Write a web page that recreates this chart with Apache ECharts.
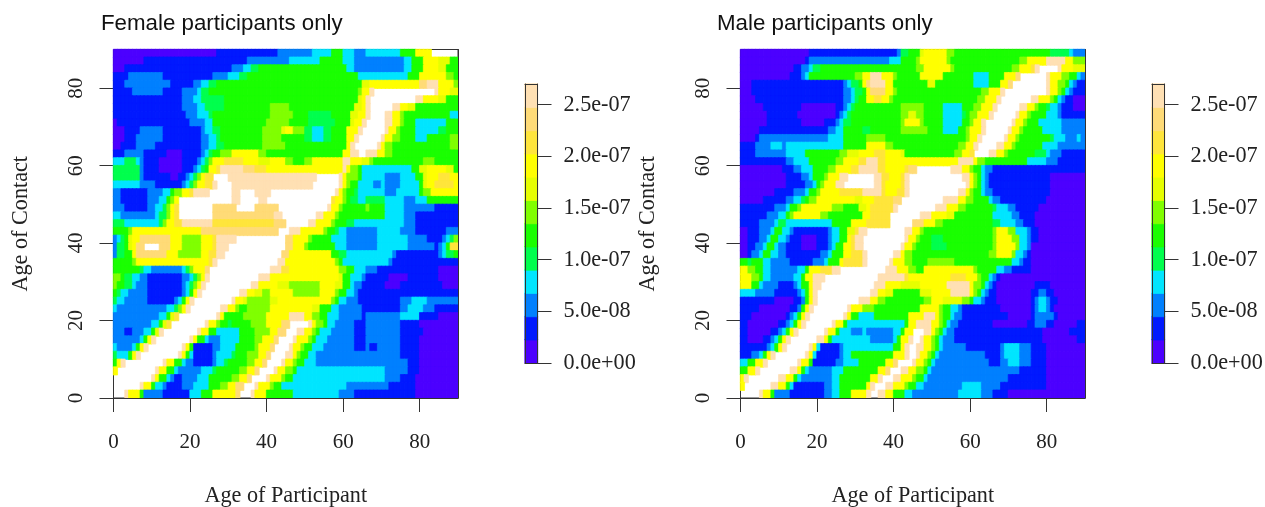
<!DOCTYPE html>
<html><head><meta charset="utf-8">
<style>html,body{margin:0;padding:0;background:#fff}#c{width:1265px;height:507px}</style>
<script src="https://cdn.jsdelivr.net/npm/echarts@6/dist/echarts.min.js"></script>
</head><body><div id="c"></div>
<script>
// Colour bands of the scale, lowest to highest (12 bands); level 12 ("c") = above the scale, not painted.
const bandColors = ['#4C00FF','#0019FF','#0080FF','#00E5FF','#00FF4D','#1AFF00','#80FF00','#E6FF00','#FFFF00','#FFE53B','#FFDB77','#FFE0B3'];
const axisTicks = [0,20,40,60,80];
const scaleTicks = [0,5e-8,1e-7,1.5e-7,2e-7,2.5e-7];
const scaleLabels = ['0.0e+00','5.0e-08','1.0e-07','1.5e-07','2.0e-07','2.5e-07'];
const scaleMax = 2.7e-7;
const ageMax = 90;
// Each row: contact age band, top to bottom (2 years high). Token = level (base 13) + participant age where the run ends.
const femaleRows = [
"027 143 252 357 560 363 266 375 579 883 c90",
"08 135 246 354 560 363 276 378 581 885 788 590",
"03 131 234 336 438 561 363 276 378 581 885 787 590",
"14 213 126 230 333 435 564 377 580 887 689 590",
"13 215 121 223 325 427 565 767 880 a82 b85 889 690",
"15 213 118 222 323 425 564 665 867 b68 c84 b85 888 790",
"118 221 323 429 564 765 866 b67 c79 b81 885 787 590",
"118 222 324 429 541 646 563 765 866 b67 c73 b75 877 779 590",
"119 222 325 426 541 647 551 457 562 764 866 b67 c71 b73 875 676 588 390",
"01 120 224 326 540 646 551 458 562 763 865 b66 c71 b73 875 676 579 387 590",
"03 17 213 123 224 326 428 539 644 745 847 650 452 355 457 561 864 b65 c71 b72 874 675 579 385 487 590",
"03 16 213 123 225 327 428 539 644 550 452 355 457 561 863 b64 c70 b71 873 675 579 382 588 690",
"02 16 211 123 225 327 429 539 645 561 862 b63 c69 b70 871 673 588 690",
"13 28 114 018 123 224 325 426 528 631 838 640 560 862 b64 c66 b69 871 673 590",
"33 46 37 28 112 018 122 223 324 425 626 829 934 838 741 845 647 550 652 860 b62 865 767 668 581 684 590",
"47 28 112 018 121 222 323 424 525 827 928 b34 a37 940 860 b61 862 664 565 378 580 782 887 789 590",
"47 28 115 017 119 220 321 422 623 824 926 c30 b53 c59 b60 861 664 565 371 275 379 581 782 885 988 890",
"37 211 118 219 320 421 622 824 926 b27 c31 b52 c59 b60 861 662 564 368 270 371 275 380 581 782 884 989 890",
"22 19 213 315 516 618 820 921 b25 c31 b33 c37 b41 c58 b59 860 661 563 464 371 274 380 581 683 890",
"22 19 212 314 515 616 817 c31 b33 c38 b40 c57 958 860 661 562 464 366 471 376 279 382 590",
"23 19 211 313 414 615 816 917 c26 a32 c37 a43 c56 b57 859 660 566 667 571 376 284 190",
"32 211 312 414 615 816 917 c26 a42 b44 c53 b55 858 659 571 376 279 190",
"43 312 413 614 816 918 b26 942 a45 c51 b53 857 658 561 463 376 279 190",
"54 65 823 a43 c46 b49 855 656 558 459 361 269 375 279 187 290",
"21 32 43 54 75 87 a15 818 623 826 927 b32 c45 a47 851 652 557 361 269 377 282 186 287 388 489 690",
"21 43 54 75 86 a8 c12 a15 818 623 826 927 b30 c45 a47 850 651 558 361 269 377 284 185 286 387 588 990",
"21 43 55 86 a14 817 623 825 927 b29 c44 a46 857 559 461 373 274 185 286 387 489 590",
"55 66 825 926 b27 c43 b45 858 659 560 372 273 190",
"57 48 310 218 319 420 621 824 a25 c41 b44 946 859 661 563 366 269 185 090",
"62 53 45 37 29 118 220 321 422 623 824 b25 c38 b41 859 760 562 365 266 172 077 185 090",
"61 53 45 36 29 118 219 320 421 622 823 b24 c36 b38 843 746 654 858 760 562 363 265 171 075 186 090",
"51 42 34 29 118 219 320 521 822 b23 c33 b35 837 739 641 847 654 858 659 561 363 264 190",
"41 33 29 116 217 318 519 820 b21 c31 b32 834 735 641 743 857 658 559 361 264 175 278 382 290",
"31 214 316 417 618 819 b20 c28 b30 832 633 535 641 852 754 557 359 265 175 277 381 284 190",
"212 314 515 716 917 c27 b28 829 534 640 846 b50 852 654 556 359 265 166 275 380 185 090",
"210 312 513 714 915 c24 b25 827 628 530 431 536 640 844 a46 c51 b52 853 655 556 358 263 166 275 180 090",
"23 15 28 310 511 712 b13 c22 b23 825 527 333 537 641 843 a45 c48 b50 852 653 554 357 263 166 275 181 090",
"27 38 59 810 b11 c20 b21 822 524 325 228 333 537 639 842 a43 c47 b48 851 652 553 356 263 166 275 180 090",
"31 25 36 57 88 b9 c18 b19 820 521 126 228 332 537 638 841 a42 c46 b47 849 650 552 355 263 166 267 169 275 180 090",
"41 34 55 86 b7 c17 b18 819 520 321 126 227 331 432 535 638 840 a41 c45 b47 848 649 551 353 275 180 090",
"51 82 b3 c13 b14 816 518 319 221 126 227 329 430 535 637 839 a40 c44 b45 847 648 550 353 277 180 090",
"81 c11 b12 814 516 317 223 326 427 533 635 837 a38 c42 b43 845 647 548 371 277 180 090",
"c10 b11 812 514 315 216 118 222 325 531 633 835 a36 c40 b41 844 645 547 371 275 179 090",
"c7 b8 810 511 313 214 118 221 325 528 630 832 a34 c37 b38 841 642 544 361 272 179 090",
"c3 b4 87 58 213 120 323 526 832 a33 c36 b37 840 547 359 263 179 090"
];
const maleRows = [
"018 141 242 444 547 748 854 656 581 486 387 290",
"017 118 239 342 546 647 854 655 573 675 880 b85 887 690",
"014 116 218 319 421 546 648 855 656 571 673 876 977 b78 c83 b84 887 790",
"013 116 217 318 530 632 834 b37 840 641 547 853 561 365 569 872 a73 c80 b81 884 686 588 389 290",
"03 127 228 329 431 532 833 a34 b38 840 549 751 561 365 568 870 a71 c80 b81 883 685 586 387 288 190",
"03 127 229 330 432 533 834 a38 840 641 563 665 868 b69 c80 b81 883 684 585 386 287 190",
"04 127 229 330 431 533 835 937 839 640 562 664 867 b68 c76 b78 881 682 583 384 285 187 090",
"06 116 025 127 228 329 430 542 648 553 358 561 663 866 b67 c73 b75 877 678 580 481 383 284 187 090",
"07 115 025 126 227 328 429 542 644 746 648 553 358 459 560 662 865 b66 c72 b73 875 676 580 383 284 190",
"07 116 022 125 226 327 429 542 643 847 648 553 358 560 661 863 b64 c71 b72 874 675 578 384 290",
"05 123 225 327 532 434 542 649 553 357 559 660 863 b64 c70 b71 873 674 579 384 290",
"04 15 223 327 533 638 559 660 862 b63 c69 b70 872 673 581 482 385 288 389 290",
"14 28 311 212 327 533 838 640 557 659 861 b62 c67 b69 871 672 579 383 290",
"14 212 317 526 628 731 835 938 842 743 556 658 860 961 c65 b67 869 670 577 480 381 284 190",
"112 214 318 525 627 831 933 b36 938 857 b61 862 664 575 380 283 190",
"011 114 216 319 523 625 829 931 b36 938 843 944 a46 c55 b58 860 661 563 364 266 190",
"012 116 218 319 522 623 826 b28 c35 b37 939 842 943 b44 c58 b60 861 662 563 364 265 181 090",
"012 117 219 320 521 622 825 b27 c35 b37 938 842 943 b44 c59 b60 861 662 563 364 265 181 090",
"09 114 217 318 520 621 826 932 b37 938 841 943 b44 c57 b59 860 661 563 364 266 181 090",
"06 112 214 316 417 518 620 830 732 835 940 a42 c53 b57 859 661 565 366 268 180 090",
"19 212 313 515 616 824 627 531 733 834 940 b41 c51 b54 857 659 566 467 370 272 178 090",
"17 210 312 513 614 821 623 532 834 939 c47 b50 854 756 566 371 273 177 090",
"15 29 310 412 324 529 833 939 c45 a48 851 653 566 468 372 274 177 090",
"02 15 28 39 511 313 214 123 224 326 528 730 931 b33 c43 b45 847 648 566 667 870 672 375 276 178 090",
"02 15 27 38 510 312 213 116 020 123 224 326 528 829 930 b32 c43 b44 846 647 550 453 566 667 871 673 375 276 178 090",
"02 14 26 37 59 310 212 116 020 123 224 325 527 829 930 b32 c42 b43 845 646 550 454 566 667 872 673 375 276 090",
"02 13 25 36 58 310 212 121 223 324 527 829 932 b33 c40 b42 843 645 565 667 871 672 374 275 176 090",
"52 43 56 38 213 119 222 323 526 827 932 b33 c39 b40 843 645 549 656 571 373 274 176 090",
"82 64 56 38 215 317 518 821 924 b26 c38 b41 844 646 548 861 662 567 369 271 176 090",
"83 65 56 38 214 316 517 819 b22 c36 b43 944 855 959 862 663 565 366 267 168 090",
"83 55 36 210 114 215 316 518 819 b21 c35 b38 842 747 854 b60 861 663 564 365 266 167 077 181 090",
"34 29 115 216 317 518 819 b20 c34 b36 838 740 547 750 855 b60 861 662 563 364 265 167 076 178 280 182 090",
"19 014 116 217 518 819 b20 c31 b34 836 638 548 650 853 758 660 561 363 264 167 076 177 278 380 281 183 090",
"15 013 115 216 517 818 b19 c28 b29 832 635 547 852 653 555 357 258 168 076 177 278 380 281 182 090",
"13 012 113 214 315 516 817 b18 c27 b28 829 531 335 544 848 b51 852 653 555 356 258 170 076 177 282 183 090",
"12 010 112 213 314 515 816 b17 c24 b25 827 528 343 544 846 b50 852 653 554 355 257 166 075 177 280 182 088 190",
"12 08 110 211 312 513 814 b15 c22 b23 825 526 329 232 333 240 342 543 845 c48 b50 851 652 553 354 256 179 086 190",
"12 06 18 29 310 511 812 b13 c20 b22 823 524 334 240 341 542 844 b45 c47 b48 850 651 552 353 256 179 088 190",
"17 28 39 510 811 b12 c18 b19 820 321 126 227 340 542 843 b44 c46 b48 850 651 552 353 259 168 269 373 276 180 090",
"13 25 36 57 88 b9 c17 b18 819 320 126 227 329 540 843 b44 c46 b47 849 650 551 352 264 168 269 373 276 180 090",
"32 54 86 b7 c15 b16 818 519 125 227 331 538 840 a41 c45 b46 848 649 550 351 265 168 270 373 276 180 090",
"52 84 b5 c13 b15 816 517 318 224 327 536 838 a39 c42 b44 846 648 549 350 273 180 090",
"81 b2 c10 b12 814 515 316 224 326 534 836 b37 c40 b42 845 646 548 349 270 180 090",
"81 c8 b10 812 513 314 122 224 326 533 834 b35 c38 b40 843 644 546 348 258 363 268 180 090",
"c5 b6 88 59 213 122 224 326 529 833 b34 c36 b38 840 543 345 257 363 266 170 090"
];

const ink = '#333';
const serif = '"Liberation Serif","Times New Roman",serif';
const option = {animation:false, backgroundColor:'#fff', title:[], grid:[], xAxis:[], yAxis:[], series:[],
  visualMap:[{type:'piecewise', show:false, dimension:2, seriesIndex:'all',
    pieces:bandColors.map((color,i)=>({value:i,color})), outOfRange:{color:'transparent'}}]};

function cell(x,y,lvl){
  // a hairline border of the cell's own colour hides seams between neighbouring cells
  return {value:[x,y,lvl],itemStyle:{borderColor:bandColors[lvl],borderWidth:0.7}};
}
function decode(rows){
  const cells=[], n=rows.length;
  rows.forEach((row,r)=>{
    let from=0;
    row.split(' ').forEach(tok=>{
      const lvl=parseInt(tok[0],13), end=+tok.slice(1);
      for(let x=from;x<end;x++) if(lvl<12) cells.push(cell(x,n-1-r,lvl));
      from=Math.max(from,end);
    });
  });
  return cells;
}
function range(n){return Array.from({length:n},(_,i)=>String(i));}

function panel(titleText,titleLeft,left,rows){
  const g=option.grid.length, xi=option.xAxis.length, yi=option.yAxis.length;
  const top=49.5,w=344.5,h=348.5;
  option.title.push({text:titleText,left:titleLeft,top:13,padding:0,
    textStyle:{fontFamily:'"Liberation Sans",Arial,sans-serif',fontSize:22.3,fontWeight:'normal',color:'#111'}});
  option.grid.push({left,top,width:w,height:h,show:true,borderColor:ink,borderWidth:1,backgroundColor:'#fff',outerBoundsMode:'none'});
  option.xAxis.push(
    {type:'category',gridIndex:g,data:range(ageMax),show:false},
    {type:'value',gridIndex:g,position:'bottom',min:0,max:ageMax,z:3,splitLine:{show:false},
     axisLine:{show:true,onZero:false,lineStyle:{color:ink}},
     axisTick:{show:true,length:14,customValues:axisTicks,lineStyle:{color:ink}},
     axisLabel:{show:true,margin:34,customValues:axisTicks,fontFamily:serif,fontSize:21,color:'#222'},
     name:'Age of Participant',nameLocation:'middle',nameGap:87,nameTextStyle:{fontFamily:serif,fontSize:22.2,color:'#222'}});
  option.yAxis.push(
    {type:'category',gridIndex:g,data:range(rows.length),show:false},
    {type:'value',gridIndex:g,position:'left',min:0,max:ageMax,z:0,splitLine:{show:false},
     axisLine:{show:false,onZero:false},
     axisTick:{show:true,length:14,customValues:axisTicks,lineStyle:{color:ink}},
     axisLabel:{show:true,margin:27,rotate:90,customValues:axisTicks,fontFamily:serif,fontSize:21,color:'#222'},
     name:'Age of Contact',nameLocation:'middle',nameGap:81,nameRotate:90,nameTextStyle:{fontFamily:serif,fontSize:22.2,color:'#222'}},
    {type:'value',gridIndex:g,position:'right',min:0,max:ageMax,z:3,splitLine:{show:false},
     axisLine:{show:true,onZero:false,lineStyle:{color:ink}},axisTick:{show:false},axisLabel:{show:false}});
  option.series.push({type:'heatmap',xAxisIndex:xi,yAxisIndex:yi,data:decode(rows),silent:true,progressive:0,
    emphasis:{disabled:true}});
}

function scaleBar(left){
  const g=option.grid.length, xi=option.xAxis.length, yi=option.yAxis.length;
  const frame=(pos)=>({type:'value',gridIndex:g,position:pos,min:0,max:1,z:3,splitLine:{show:false},
     axisLine:{show:true,onZero:false,lineStyle:{color:ink}},axisTick:{show:false},axisLabel:{show:false}});
  option.grid.push({left,top:84,width:12.5,height:279,outerBoundsMode:'none'});
  option.xAxis.push({type:'category',gridIndex:g,data:['0'],show:false},frame('bottom'),frame('top'));
  option.yAxis.push({type:'category',gridIndex:g,data:range(bandColors.length),show:false},
    frame('left'),
    {type:'value',gridIndex:g,position:'right',min:0,max:scaleMax,z:3,splitLine:{show:false},
     axisLine:{show:true,onZero:false,lineStyle:{color:ink}},
     axisTick:{show:true,length:14,customValues:scaleTicks,lineStyle:{color:ink}},
     axisLabel:{show:true,margin:26,padding:[3,0,0,0],customValues:scaleTicks,fontFamily:serif,fontSize:22.2,color:'#222',
       formatter:v=>scaleLabels[scaleTicks.findIndex(t=>Math.abs(t-v)<1e-10)]||''}});
  option.series.push({type:'heatmap',xAxisIndex:xi,yAxisIndex:yi,silent:true,progressive:0,
    emphasis:{disabled:true},data:bandColors.map((_,i)=>cell(0,i,i))});
}

panel('Female participants only',101,113.5,femaleRows);
scaleBar(525);
panel('Male participants only',717,740.5,maleRows);
scaleBar(1152);

const chart=echarts.init(document.getElementById('c'),null,{renderer:'canvas'});
chart.setOption(option);
</script></body></html>
